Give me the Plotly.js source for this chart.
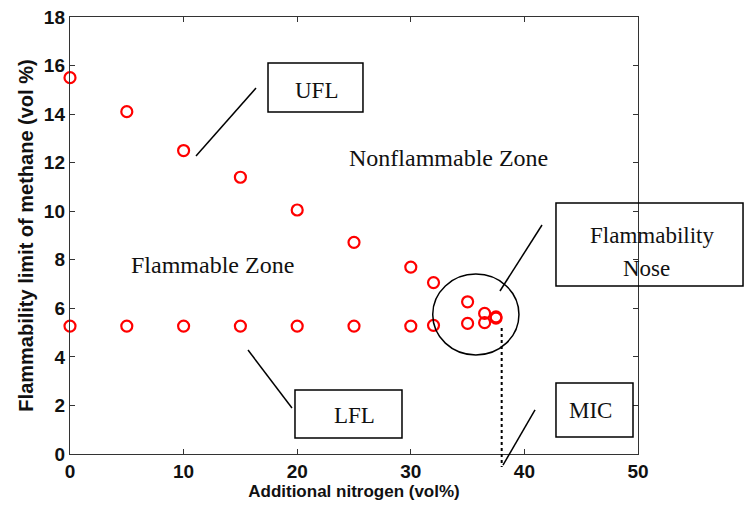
<!DOCTYPE html>
<html><head><meta charset="utf-8">
<script src="https://cdn.plot.ly/plotly-3.0.1.min.js"></script>
<style>html,body{margin:0;padding:0;background:#fff}#chart{width:744px;height:505px}</style>
</head><body><div id="chart"></div>
<script>
const uflX = [0, 5, 10, 15, 20, 25, 30, 32, 35, 36.5, 37.5];
const uflY = [15.5, 14.1, 12.5, 11.4, 10.05, 8.72, 7.7, 7.06, 6.27, 5.79, 5.65];
const lflX = [0, 5, 10, 15, 20, 25, 30, 32, 35, 36.5, 37.5];
const lflY = [5.27, 5.27, 5.27, 5.27, 5.27, 5.27, 5.27, 5.3, 5.38, 5.41, 5.6];
const xTicks = [0, 10, 20, 30, 40, 50];
const yTicks = [0, 2, 4, 6, 8, 10, 12, 14, 16, 18];
const micX = 38;

function label(text, x, y, size) {
  return {text: text, xref: 'paper', yref: 'paper', x: x, y: y, xanchor: 'center', yanchor: 'middle',
    showarrow: false, font: {family: 'Liberation Serif, Times New Roman, serif', size: size || 23, color: '#111'}};
}
function rect(x0, x1, y0, y1) {
  return {type: 'rect', xref: 'paper', yref: 'paper', x0: x0, x1: x1, y0: y0, y1: y1,
    line: {color: '#000', width: 1.5}, fillcolor: 'rgba(0,0,0,0)'};
}
function seg(x0, y0, x1, y1) {
  return {type: 'line', xref: 'paper', yref: 'paper', x0: x0, y0: y0, x1: x1, y1: y1,
    line: {color: '#000', width: 1.5}};
}
const markerStyle = {symbol: 'circle-open', size: 11, color: 'red', line: {width: 2.2, color: 'red'}};
const data = [
  {x: uflX, y: uflY, mode: 'markers', type: 'scatter', marker: markerStyle, cliponaxis: false, hoverinfo: 'x+y'},
  {x: lflX, y: lflY, mode: 'markers', type: 'scatter', marker: markerStyle, cliponaxis: false, hoverinfo: 'x+y'}
];
const tickFont = {family: 'Liberation Sans, Arial, sans-serif', size: 19, color: '#111', weight: 'bold'};
const layout = {
  width: 744, height: 505, showlegend: false,
  margin: {l: 70, r: 106, t: 17, b: 51},
  paper_bgcolor: '#fff', plot_bgcolor: '#fff',
  font: {family: 'Liberation Sans, Arial, sans-serif', color: '#111'},
  xaxis: {range: [0, 50], tickvals: xTicks, ticktext: xTicks.map(String), ticks: 'inside', ticklen: 5,
    tickcolor: '#333', showline: true, mirror: 'ticks', linecolor: '#333', linewidth: 1.2,
    showgrid: false, zeroline: false, fixedrange: true, tickfont: tickFont,
    title: {text: '<b>Additional nitrogen (vol%)</b>', font: {size: 17, color: '#111'}, standoff: 2}},
  yaxis: {range: [0, 18], tickvals: yTicks, ticktext: yTicks.map(String), ticks: 'inside', ticklen: 5,
    tickcolor: '#333', showline: true, mirror: 'ticks', linecolor: '#333', linewidth: 1.2,
    showgrid: false, zeroline: false, fixedrange: true, tickfont: tickFont,
    title: {text: '<b>Flammability limit of methane (vol %)</b>', font: {size: 20, color: '#111'}, standoff: 4}},
  annotations: [
    label('UFL', 0.4331, 0.8307),
    label('LFL', 0.5, 0.087),
    label('MIC', 0.9155, 0.0984),
    label('Flammability', 1.0246, 0.5011),
    label('Nose', 1.0141, 0.4256),
    label('Nonflammable Zone', 0.6655, 0.6773, 24),
    label('Flammable Zone', 0.25, 0.4325, 24)
  ],
  shapes: [
    rect(0.3486, 0.5158, 0.7826, 0.8947),
    rect(0.3961, 0.5845, 0.0366, 0.1465),
    rect(0.8556, 0.9912, 0.0389, 0.1625),
    rect(0.8556, 1.1849, 0.3844, 0.5744),
    {type: 'circle', xref: 'x', yref: 'y', x0: 31.93, x1: 39.52, y0: 4.08, y1: 7.41,
      line: {color: '#000', width: 1.5}},
    seg(0.2218, 0.6819, 0.3275, 0.8375),
    seg(0.3134, 0.238, 0.3908, 0.1053),
    seg(0.757, 0.373, 0.831, 0.524),
    seg(0.7623, -0.0252, 0.8187, 0.1007),
    {type: 'line', xref: 'x', yref: 'paper', x0: micX, x1: micX, y0: 0.2883, y1: -0.0297,
      line: {color: '#000', width: 2, dash: 'dot'}}
  ]
};
Plotly.newPlot('chart', data, layout, {displayModeBar: false, staticPlot: true});
</script></body></html>
